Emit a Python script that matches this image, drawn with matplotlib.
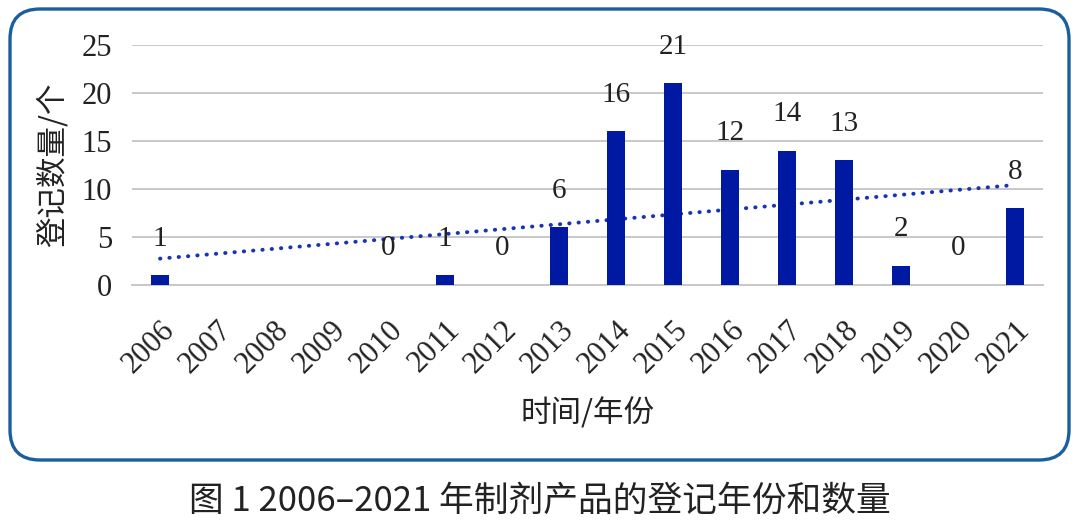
import numpy as np
import matplotlib
matplotlib.use("Agg")
import matplotlib.pyplot as plt
from matplotlib.patches import FancyBboxPatch
from matplotlib.transforms import IdentityTransform, ScaledTranslation

# data (2007-2009 have no entry)
years = ["2006", "2007", "2008", "2009", "2010", "2011", "2012", "2013",
         "2014", "2015", "2016", "2017", "2018", "2019", "2020", "2021"]
counts = [1, np.nan, np.nan, np.nan, 0, 1, 0, 6, 16, 21, 12, 14, 13, 2, 0, 8]

ylabel = "登记数量/个"
xlabel = "时间/年份"
caption = "图 1 2006–2021 年制剂产品的登记年份和数量"

serif = ["Liberation Serif", "DejaVu Serif"]
cjk = ["Noto Sans CJK SC", "DejaVu Sans"]

bar_color = "#0019A3"
line_color = "#1A33B5"
txt = "#222222"

fig = plt.figure(figsize=(10.8, 5.31), dpi=100)
ax = fig.add_axes([0.1218, 0.4633, 0.8444, 0.452])

x = np.arange(len(years))
y = np.array(counts, dtype=float)
ax.bar(x, np.nan_to_num(y), width=0.33, color=bar_color, zorder=3)

# linear trend over years with a value
ok = ~np.isnan(y)
k, b = np.polyfit(x[ok], y[ok], 1)
ax.plot([x[0], x[-1]], [k * x[0] + b, k * x[-1] + b], color=line_color,
        lw=2.8, linestyle=(0, (0.1, 2.3)), dash_capstyle="round", zorder=2)

for xi, yi in zip(x, y):
    if np.isnan(yi):
        continue
    ax.annotate(str(int(yi)), (xi, yi), xytext=(0, 17), textcoords="offset points",
                ha="center", va="bottom", fontsize=21, family=serif, color=txt,
                zorder=4)

ax.set_xlim(-0.5, len(years) - 0.5)
ax.set_ylim(0, 25)
ax.set_yticks([0, 5, 10, 15, 20, 25])
ax.grid(axis="y", color="#C8C8C8", lw=1.4, zorder=0)
ax.set_axisbelow(True)
for s in ["top", "right", "left"]:
    ax.spines[s].set_visible(False)
ax.spines["bottom"].set_color("#C8C8C8")
ax.spines["bottom"].set_linewidth(1.4)

ax.set_xticks(x)
ax.set_xticklabels(years, rotation=45, ha="right", rotation_mode="anchor",
                   fontsize=22, family=serif, color=txt)
shift = ScaledTranslation(-11 / 72, 0, fig.dpi_scale_trans)
for lab in ax.get_xticklabels():
    lab.set_transform(lab.get_transform() + shift)
for lab in ax.get_yticklabels():
    lab.set_family(serif)
ax.tick_params(axis="y", length=0, pad=14, labelsize=22, labelcolor=txt)
ax.tick_params(axis="x", length=0, pad=22)

ax.set_xlabel(xlabel, fontsize=22, family=cjk, color=txt, labelpad=14)
ax.set_ylabel(ylabel, fontsize=22, family=cjk, color=txt, labelpad=9)

# rounded blue frame
frame = FancyBboxPatch((10, 71), 1059, 451, boxstyle="round,pad=0,rounding_size=30",
                       transform=IdentityTransform(), fill=False,
                       edgecolor="#1B5E9E", lw=2.4)
fig.patches.append(frame)

fig.text(0.5, 0.055, caption, ha="center", va="center", fontsize=25,
         family=cjk, color=txt)

fig.savefig("out.png", dpi=100)
